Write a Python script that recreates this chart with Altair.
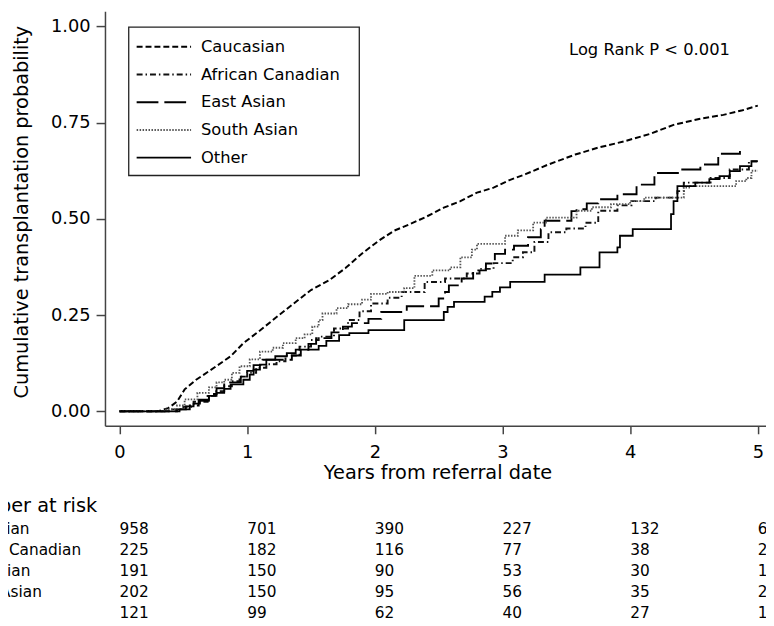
import altair as alt
import pandas as pd

FONT = "DejaVu Sans"

groups = ["Caucasian", "African Canadian", "East Asian", "South Asian", "Other"]
years = [0, 1, 2, 3, 4, 5]

# Number at risk at each year
risk_caucasian = [958, 701, 390, 227, 132, 64]
risk_african = [225, 182, 116, 77, 38, 21]
risk_east = [191, 150, 90, 53, 30, 16]
risk_south = [202, 150, 95, 56, 35, 20]
risk_other = [121, 99, 62, 40, 27, 14]

# Cumulative transplantation probability curves
cauc_x = [0, 0.3, 0.38, 0.45, 0.51, 0.6, 0.74, 0.87, 0.97, 1.1, 1.25, 1.38, 1.5, 1.64, 1.77, 1.9,
          2.03, 2.15, 2.28, 2.4, 2.54, 2.67, 2.8, 2.93, 3.05, 3.18, 3.35, 3.57, 3.75, 3.95, 4.15,
          4.34, 4.55, 4.73, 4.88, 5.0]
cauc_y = [0, 0, 0.008, 0.025, 0.057, 0.082, 0.113, 0.143, 0.177, 0.21, 0.25, 0.284, 0.315, 0.34,
          0.372, 0.41, 0.443, 0.469, 0.487, 0.505, 0.529, 0.546, 0.568, 0.581, 0.6, 0.616, 0.64,
          0.667, 0.685, 0.701, 0.72, 0.744, 0.76, 0.77, 0.782, 0.794]

afr_x = [0, 0.4, 0.5, 0.58, 0.69, 0.75, 0.82, 0.88, 0.94, 1.0, 1.07, 1.15, 1.23, 1.3, 1.41, 1.5,
         1.56, 1.68, 1.79, 1.88, 1.97, 2.1, 2.21, 2.39, 2.55, 2.72, 2.82, 2.93, 3.08, 3.16, 3.25,
         3.36, 3.5, 3.65, 3.75, 3.9, 4.01, 4.2, 4.37, 4.42, 4.63, 4.78, 4.93, 5.0]
afr_y = [0, 0.005, 0.012, 0.025, 0.04, 0.052, 0.065, 0.078, 0.09, 0.1, 0.113, 0.122, 0.13, 0.145,
         0.168, 0.185, 0.194, 0.215, 0.237, 0.26, 0.28, 0.295, 0.31, 0.336, 0.345, 0.358, 0.37,
         0.385, 0.4, 0.413, 0.44, 0.465, 0.475, 0.49, 0.521, 0.535, 0.546, 0.555, 0.572, 0.594,
         0.606, 0.628, 0.649, 0.649]

east_x = [0, 0.45, 0.55, 0.62, 0.7, 0.76, 0.82, 0.95, 1.0, 1.05, 1.12, 1.35, 1.42, 1.48, 1.54,
          1.66, 1.75, 1.82, 1.95, 2.05, 2.25, 2.5, 2.55, 2.58, 2.68, 2.77, 2.87, 2.94, 3.02, 3.09,
          3.2, 3.3, 3.33, 3.54, 3.58, 3.66, 3.75, 3.9, 4.05, 4.19, 4.39, 4.55, 4.69, 4.86]
east_y = [0, 0.005, 0.015, 0.03, 0.045, 0.06, 0.075, 0.09, 0.105, 0.12, 0.134, 0.145, 0.16, 0.175,
          0.19, 0.205, 0.22, 0.229, 0.24, 0.258, 0.273, 0.293, 0.31, 0.327, 0.345, 0.366, 0.384,
          0.409, 0.42, 0.43, 0.452, 0.473, 0.495, 0.52, 0.525, 0.54, 0.551, 0.564, 0.589, 0.619,
          0.628, 0.641, 0.669, 0.68]

south_x = [0, 0.35, 0.45, 0.51, 0.61, 0.7, 0.76, 0.82, 0.88, 0.94, 1.02, 1.1, 1.2, 1.28, 1.38,
           1.45, 1.51, 1.56, 1.59, 1.7, 1.79, 1.9, 1.97, 2.1, 2.23, 2.31, 2.45, 2.59, 2.67, 2.76,
           2.8, 3.02, 3.12, 3.24, 3.34, 3.58, 3.7, 3.85, 4.0, 4.11, 4.42, 4.47, 4.83, 4.91, 4.95, 5.0]
south_y = [0, 0.005, 0.015, 0.031, 0.048, 0.062, 0.075, 0.082, 0.1, 0.117, 0.135, 0.155, 0.165,
           0.177, 0.19, 0.2, 0.22, 0.237, 0.254, 0.268, 0.278, 0.29, 0.305, 0.31, 0.32, 0.352,
           0.366, 0.374, 0.4, 0.42, 0.435, 0.456, 0.47, 0.49, 0.503, 0.521, 0.53, 0.538, 0.546,
           0.555, 0.581, 0.585, 0.598, 0.606, 0.625, 0.625]

other_x = [0, 0.47, 0.52, 0.58, 0.63, 0.7, 0.76, 0.82, 0.87, 0.97, 1.02, 1.05, 1.1, 1.15, 1.22,
           1.31, 1.38, 1.56, 1.62, 1.72, 1.8, 1.95, 2.23, 2.54, 2.57, 2.62, 2.86, 2.92, 2.98, 3.06,
           3.33, 3.61, 3.76, 3.9, 3.92, 4.02, 4.32, 4.34, 4.37, 4.51, 4.62, 4.7, 4.78, 4.86, 4.95, 5.0]
other_y = [0, 0.005, 0.013, 0.02, 0.027, 0.04, 0.048, 0.058, 0.07, 0.082, 0.095, 0.108, 0.121,
           0.134, 0.143, 0.151, 0.16, 0.17, 0.183, 0.198, 0.203, 0.211, 0.237, 0.258, 0.271, 0.284,
           0.298, 0.31, 0.322, 0.336, 0.355, 0.374, 0.413, 0.426, 0.456, 0.473, 0.512, 0.546, 0.585,
           0.594, 0.603, 0.611, 0.624, 0.637, 0.65, 0.65]

dash_styles = [[6, 3], [6, 3, 1.5, 3], [22, 6], [1.5, 1.5], [1, 0]]
line_colors = ["#000000", "#111111", "#000000", "#555555", "#000000"]
line_widths = [2.0, 1.8, 2.0, 1.2, 2.0]

# ---- tables ----
def frame(name, xs, ys):
    assert len(xs) == len(ys), name
    return pd.DataFrame({"group": name, "t": xs, "p": ys})

cauc_df = frame("Caucasian", cauc_x, cauc_y)
steps_df = pd.concat([
    frame("African Canadian", afr_x, afr_y),
    frame("East Asian", east_x, east_y),
    frame("South Asian", south_x, south_y),
    frame("Other", other_x, other_y),
])

risk_rows = [risk_caucasian, risk_african, risk_east, risk_south, risk_other]
risk_df = pd.DataFrame([
    {"group": g, "t": yr, "n": n}
    for g, row in zip(groups, risk_rows) for yr, n in zip(years, row)
])
label_df = pd.DataFrame({"group": groups})

XDOM = [-0.114, 5.064]
YDOM = [-0.0378, 1.0393]

x_scale = alt.Scale(domain=XDOM, nice=False, zero=False)
x_enc = alt.X(
    "t:Q", scale=x_scale,
    axis=alt.Axis(values=years, format="d", title="Years from referral date",
                  grid=False, domainColor="#444", domainWidth=1.5, tickColor="#444",
                  tickWidth=1.5, tickSize=8, labelFont=FONT, labelFontSize=18,
                  labelColor="black", labelPadding=10, titleFont=FONT, titleFontSize=19.5,
                  titleFontWeight="normal", titleColor="black", titleX=336, titleY=53,
                  titleBaseline="alphabetic", titleAlign="center"),
)
y_enc = alt.Y(
    "p:Q", scale=alt.Scale(domain=YDOM, nice=False, zero=False),
    axis=alt.Axis(values=[0, 0.25, 0.5, 0.75, 1.0], format=".2f",
                  title="Cumulative transplantation probability", grid=False,
                  domainColor="#444", domainWidth=1.5, tickColor="#444", tickWidth=1.5,
                  tickSize=9, labelFont=FONT, labelFontSize=18, labelColor="black",
                  labelPadding=6, titleFont=FONT, titleFontSize=19.5,
                  titleFontWeight="normal", titleColor="black", titleX=-84, titleY=202.5,
                  titleAngle=270, titleAlign="center", titleBaseline="middle"),
)

legend = alt.Legend(orient="none", legendX=31, legendY=22, title=None, symbolType="stroke",
                    symbolSize=3025, clipHeight=28, rowPadding=0, padding=0, labelOffset=9,
                    labelFont=FONT, labelFontSize=16.5, labelColor="black")

style_enc = dict(
    strokeDash=alt.StrokeDash("group:N", scale=alt.Scale(domain=groups, range=dash_styles),
                              legend=legend),
    color=alt.Color("group:N", scale=alt.Scale(domain=groups, range=line_colors), legend=legend),
    strokeWidth=alt.StrokeWidth("group:N", scale=alt.Scale(domain=groups, range=line_widths),
                                legend=legend),
)

cauc_line = alt.Chart(cauc_df).mark_line(interpolate="linear").encode(
    x=x_enc, y=y_enc, **style_enc)
step_lines = alt.Chart(steps_df).mark_line(interpolate="step-after").encode(
    x=x_enc, y=y_enc, **style_enc)
lines = alt.layer(cauc_line, step_lines)

box = alt.Chart(alt.Data(values=[{}])).mark_rect(
    fill="white", stroke="#222", strokeWidth=1.3).encode(
    x=alt.value(24), x2=alt.value(257), y=alt.value(16), y2=alt.value(166))

logrank = alt.Chart(alt.Data(values=[{}])).mark_text(
    align="left", baseline="middle", font=FONT, fontSize=16.5, color="black").encode(
    x=alt.value(469), y=alt.value(39), text=alt.value("Log Rank P < 0.001"))

header = alt.Chart(alt.Data(values=[{}])).mark_text(
    align="left", baseline="middle", font=FONT, fontSize=19.5, color="black").encode(
    x=alt.value(-153), y=alt.value(500), text=alt.value("Number at risk"))

row_scale = alt.Scale(type="point", domain=groups, range=[523.3, 608.3], padding=0)

row_labels = alt.Chart(label_df).mark_text(
    align="left", baseline="middle", font=FONT, fontSize=15.5, color="black").encode(
    x=alt.value(-156), y=alt.Y("group:N", scale=row_scale, axis=None), text="group:N")

numbers = alt.Chart(risk_df).mark_text(
    align="left", baseline="middle", font=FONT, fontSize=15.5, color="black").encode(
    x=x_enc, y=alt.Y("group:N", scale=row_scale, axis=None), text="n:Q")

chart = alt.layer(box, lines, logrank, header, row_labels, numbers).resolve_scale(
    y="independent"
).properties(
    width=668, height=419,
    padding={"left": 98, "top": 0, "right": 0, "bottom": 199},
    autosize=alt.AutoSizeParams(type="none"),
    background="white",
).configure_view(stroke=None)

chart.save("out.html", embed_options={"renderer": "svg", "actions": False})
